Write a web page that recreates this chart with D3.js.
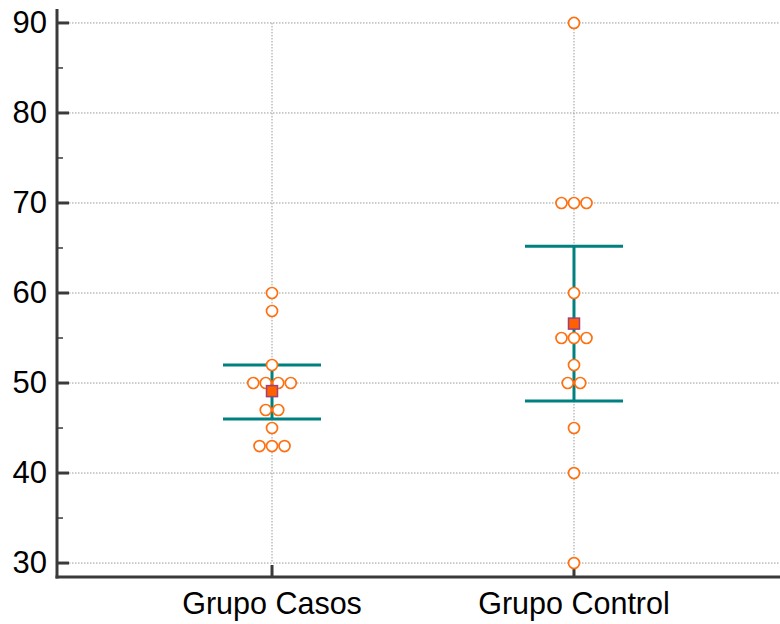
<!DOCTYPE html>
<html>
<head>
<meta charset="utf-8">
<script src="https://cdn.jsdelivr.net/npm/d3@7"></script>
<style>
  body { margin: 0; background: #fff; }
  svg { display: block; font-family: "Liberation Sans", Arial, sans-serif; }
</style>
</head>
<body>
<div id="app"></div>
<script>
const categories = ["Grupo Casos", "Grupo Control"];
const casos = [60, 58, 52, 50, 50, 50, 50, 47, 47, 45, 43, 43, 43];
const control = [90, 70, 70, 70, 60, 55, 55, 55, 52, 50, 50, 45, 40, 30];
const means = [49.1, 56.6];
const lowerBars = [46.0, 48.0];
const upperBars = [52.0, 65.2];
const yTicks = [30, 40, 50, 60, 70, 80, 90];
const yMinorTicks = [35, 45, 55, 65, 75, 85];

const width = 780, height = 624;
const plotLeft = 57, plotBottom = 577, plotTop = 9;

const svg = d3.select("#app").append("svg")
    .attr("width", width)
    .attr("height", height);

const y = d3.scaleLinear().domain([28.45, 91.55]).range([plotBottom, plotTop]);
const x = d3.scalePoint().domain(categories).range([plotLeft, 789]).padding(0.712);

const gridColor = "#9a9a9a";
const axisColor = "#3a3a3a";
const teal = "#008080";
const orange = "#ff7010";

// horizontal gridlines
svg.append("g")
    .selectAll("line")
    .data(yTicks)
    .join("line")
    .attr("x1", plotLeft + 12)
    .attr("x2", width)
    .attr("y1", (d) => y(d))
    .attr("y2", (d) => y(d))
    .attr("stroke", gridColor)
    .attr("stroke-width", 1)
    .attr("stroke-dasharray", "1.5,1.5");

// vertical gridlines at each group
svg.append("g")
    .selectAll("line")
    .data(categories)
    .join("line")
    .attr("x1", (d) => x(d))
    .attr("x2", (d) => x(d))
    .attr("y1", y(90))
    .attr("y2", y(30))
    .attr("stroke", gridColor)
    .attr("stroke-width", 1)
    .attr("stroke-dasharray", "1.5,1.5");

// y axis
svg.append("line")
    .attr("x1", plotLeft).attr("x2", plotLeft)
    .attr("y1", plotTop).attr("y2", plotBottom + 1.5)
    .attr("stroke", axisColor).attr("stroke-width", 3);

svg.append("g")
    .selectAll("line")
    .data(yTicks)
    .join("line")
    .attr("x1", plotLeft).attr("x2", plotLeft + 12)
    .attr("y1", (d) => y(d)).attr("y2", (d) => y(d))
    .attr("stroke", axisColor).attr("stroke-width", 3);

svg.append("g")
    .selectAll("line")
    .data(yMinorTicks)
    .join("line")
    .attr("x1", plotLeft).attr("x2", plotLeft + 6)
    .attr("y1", (d) => y(d)).attr("y2", (d) => y(d))
    .attr("stroke", axisColor).attr("stroke-width", 1.5);

svg.append("g")
    .selectAll("text")
    .data(yTicks)
    .join("text")
    .attr("x", plotLeft - 10)
    .attr("y", (d) => y(d))
    .attr("dy", "0.33em")
    .attr("text-anchor", "end")
    .attr("font-size", 31)
    .attr("fill", "#000")
    .text((d) => d);

// x axis
svg.append("line")
    .attr("x1", plotLeft - 1.5).attr("x2", width)
    .attr("y1", plotBottom).attr("y2", plotBottom)
    .attr("stroke", axisColor).attr("stroke-width", 3);

svg.append("g")
    .selectAll("line")
    .data(categories)
    .join("line")
    .attr("x1", (d) => x(d)).attr("x2", (d) => x(d))
    .attr("y1", plotBottom).attr("y2", plotBottom - 12)
    .attr("stroke", axisColor).attr("stroke-width", 3);

svg.append("g")
    .selectAll("text")
    .data(categories)
    .join("text")
    .attr("x", (d) => x(d))
    .attr("y", 614)
    .attr("text-anchor", "middle")
    .attr("font-size", 30.5)
    .attr("fill", "#000")
    .text((d) => d);

// error bars
const capHalf = 49;
categories.forEach((c, i) => {
    const cx = x(c);
    const g = svg.append("g").attr("stroke", teal).attr("stroke-width", 3);
    g.append("line")
        .attr("x1", cx).attr("x2", cx)
        .attr("y1", y(lowerBars[i])).attr("y2", y(upperBars[i]));
    g.append("line")
        .attr("x1", cx - capHalf).attr("x2", cx + capHalf)
        .attr("y1", y(lowerBars[i])).attr("y2", y(lowerBars[i]));
    g.append("line")
        .attr("x1", cx - capHalf).attr("x2", cx + capHalf)
        .attr("y1", y(upperBars[i])).attr("y2", y(upperBars[i]));
});

// points: equal values are spread side by side
const spacing = 12.5;
function swarm(values, cat) {
    const counts = d3.rollup(values, (v) => v.length, (d) => d);
    const seen = new Map();
    return values.map((v) => {
        const n = counts.get(v);
        const k = seen.get(v) || 0;
        seen.set(v, k + 1);
        return { x: x(cat) + (k - (n - 1) / 2) * spacing, y: y(v) };
    });
}
const pts = swarm(casos, categories[0]).concat(swarm(control, categories[1]));

svg.append("g")
    .selectAll("circle")
    .data(pts)
    .join("circle")
    .attr("cx", (d) => d.x)
    .attr("cy", (d) => d.y)
    .attr("r", 5.5)
    .attr("fill", "#fff")
    .attr("stroke", orange)
    .attr("stroke-width", 1.7);

// mean markers
svg.append("g")
    .selectAll("rect")
    .data(categories)
    .join("rect")
    .attr("x", (d) => x(d) - 5.5)
    .attr("y", (d, i) => y(means[i]) - 5.5)
    .attr("width", 11)
    .attr("height", 11)
    .attr("fill", "#ff6000")
    .attr("stroke", "#a0407a")
    .attr("stroke-width", 1.5);
</script>
</body>
</html>
